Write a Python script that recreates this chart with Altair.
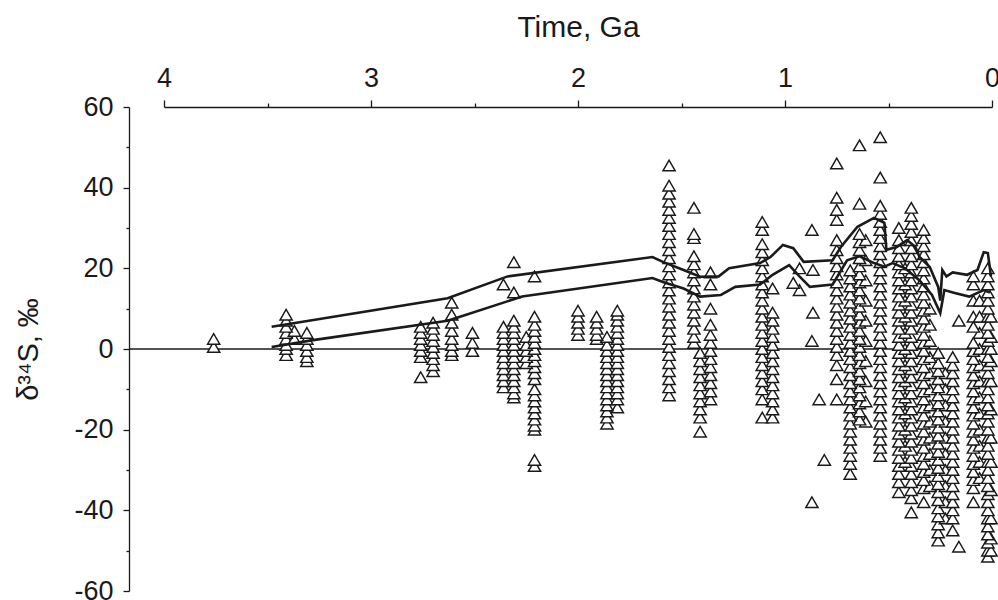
import altair as alt
import pandas as pd

# ---- sample columns (age in Ga, d34S in permil) ----
col_age = [3.76, 3.41, 3.37, 3.31, 2.76, 2.70, 2.61, 2.51, 2.36, 2.31, 2.25, 2.21,
           2.00, 1.91, 1.86, 1.81, 1.56, 1.44, 1.41, 1.36, 1.11, 1.06,
           0.75, 0.685, 0.64, 0.61, 0.54, 0.45, 0.42, 0.39, 0.33, 0.30,
           0.26, 0.225, 0.19, 0.09, 0.06, 0.02, 0.005]
col_d34s = [
    [2.5, 0.5],
    [8.5, 7, 5.5, 4, 2.5, 1, 0, -1.5],
    [4.5, 2.5],
    [4, 2.5, 1, -0.5, -2, -3],
    [5.5, 4, 2.5, 1, -0.5, -2, -7],
    [6.5, 5, 3.5, 2, 0.5, -1, -2.5, -4, -5.5],
    [11.5, 8.5, 6.5, 4.5, 2.5, 1, -0.5, -1.5],
    [4, 1.5, -0.5],
    [16, 5.5, 4, 2.5, 1, -0.5, -2, -3.5, -5, -6.5, -8, -9.5],
    [21.5, 14, 7, 5.5, 4, 2.5, 1, -0.5, -2, -3.5, -5, -6.5, -8, -9.5, -11, -12],
    [3, 1, -0.5, -2, -3.5],
    [18, 8, 6, 4.5, 3, 1.5, 0, -1.5, -3, -4.5, -6, -7.5, -10, -11.5, -13, -14.5,
     -16, -17.5, -19, -20, -27.5, -29],
    [9.5, 8, 6.5, 5, 3.5],
    [8, 6.5, 5, 3.5, 2.5],
    [3, 1, -0.5, -2, -3.5, -5, -6.5, -8, -9.5, -11, -12.5, -14, -15.5, -17, -18.5],
    [9.5, 8.5, 7, 5.5, 4, 2.5, 1, -0.5, -2, -3.5, -5, -6.5, -8, -9.5, -11, -12.5, -14.5],
    [45.5, 40.5, 38.5, 36.5, 34.5, 32.5, 30.5, 28.5, 26.5, 24.5, 22.5, 20.5, 18.5,
     16.5, 14.5, 12.5, 10.5, 8.5, 6.5, 4.5, 2.5, 0.5, -1.5, -3.5, -5.5, -7.5, -9.5, -11.5],
    [35, 28.5, 27.5, 23, 21, 19, 17, 15, 13, 11, 9, 7, 5, 3, 1.5],
    [-1, -3, -5, -7, -9, -11, -13, -15, -17, -20.5],
    [19, 16, 10, 6, 3.5, 1.5, -0.5, -2.5, -4.5, -6.5, -8.5, -10.5, -12.5],
    [31.5, 29.5, 26, 24, 22, 20, 18, 16, 14, 12, 10, 8, 6, 4, 2, 0, -2, -4, -6, -8,
     -10, -12.5, -17],
    [15, 9, 7, 5, 3, 1, -1, -3, -5, -7, -9, -11, -13, -15, -17],
    [46, 37.5, 34.5, 32, 27, 24.5, 22.5, 20.5, 18.5, 16.5, 14.5, 12.5, 10.5, 8.5,
     6.5, 4.5, 2.5, 0.5, -1.5, -4, -7.5, -12.5],
    [19.5, 17.5, 15.5, 13.5, 11.5, 9.5, 7.5, 5.5, 3.5, 1.5, -0.5, -2.5, -4.5, -6.5,
     -8.5, -10.5, -12.5, -14.5, -16.5, -18.5, -20.5, -22.5, -24.5, -26.5, -28.5, -31],
    [50.5, 36, 28.5, 26.5, 24.5, 22.5, 20.5, 18.5, 16.5, 14.5, 12.5, 10.5, 8.5, 6.5,
     4.5, 2.5, 0.5, -1.5, -3.5, -5.5, -7.5, -9.5, -11.5, -13.5, -15.5, -17.5],
    [27, 22, 17, 12, 7, 2, -3, -8, -13, -18],
    [52.5, 42.5, 35.5, 33.5, 31.5, 29.5, 27.5, 25.5, 23.5, 21.5, 19.5, 17.5, 15.5,
     13.5, 11.5, 9.5, 7.5, 5.5, 3.5, 1.5, -0.5, -2.5, -4.5, -6.5, -8.5, -10.5, -12.5,
     -14.5, -16.5, -18.5, -20.5, -22.5, -24.5, -26.5],
    [30, 27, 25, 23, 21, 19, 17, 15, 13, 11, 9, 7, 5, 3, 1, -1, -3, -5, -7, -9, -11,
     -13, -15, -17, -19, -21, -23, -25, -27, -29, -31, -33, -35.5],
    [20, 16, 12, 8, 4, 0, -4, -8, -12, -16, -20, -24, -28],
    [35, 33, 31, 29, 27, 25, 23, 21, 19, 17, 15, 13, 11, 9, 7, 5, 3, 1, -1, -3, -5,
     -7, -9, -11, -13, -15, -17, -19, -21, -23, -25, -27, -29, -31, -33, -35, -37, -40.5],
    [29.5, 27.5, 25.5, 23.5, 21.5, 19.5, 17.5, 15.5, 13.5, 11.5, 9.5, 7.5, 5.5, 3.5,
     1.5, -0.5, -2.5, -4.5, -6.5, -8.5, -10.5, -12.5, -14.5, -16.5, -18.5, -20.5,
     -22.5, -24.5, -26.5, -28.5, -30.5, -32.5, -34.5, -38],
    [10, 6, 2, -2, -6, -10, -14, -18, -22, -26, -30, -34],
    [-1, -3.5, -5.5, -7.5, -9.5, -11.5, -13.5, -15.5, -17.5, -19.5, -21.5, -23.5,
     -25.5, -27.5, -29.5, -31.5, -33.5, -35.5, -37.5, -39.5, -41.5, -43.5, -45.5, -47.5],
    [-6, -10, -14, -18, -22, -26, -30, -34, -38, -42],
    [-2, -4, -6, -8, -10, -12, -14, -16, -18, -20, -22, -24, -26, -28, -30, -32, -34,
     -36, -38, -40, -42, -45],
    [18, 16, 12, 8, 5.5, 1.5, -0.5, -2.5, -4.5, -6.5, -8.5, -10.5, -12.5, -14.5,
     -16.5, -18.5, -20.5, -22.5, -24.5, -26.5, -28.5, -30.5, -32.5, -34.5, -38],
    [12, 8, 4, 0, -4, -8, -12, -16, -20, -24, -28, -32],
    [20, 18, 16, 14, 12, 10, 8, 6, 4, 2, 0, -2, -4, -6, -8, -10, -12, -14, -16, -18,
     -20, -22, -24, -26, -28, -30, -32, -34, -36, -38, -40, -42, -44, -46, -48, -50, -51.5],
    [8, 3, 0, -3, -8, -15, -22, -28, -35, -42, -47, -50],
]

# ---- isolated samples ----
extra_age = [0.96, 0.93, 0.93, 0.87, 0.865, 0.865, 0.87, 0.835, 0.81, 0.87, 0.16, 0.16]
extra_d34s = [16.4, 20, 14.6, 29.5, 19.6, 9, 2, -12.5, -27.5, -38, 7, -49]

# ---- seawater sulfate envelope ----
upper_age = [3.48, 3.36, 2.63, 2.34, 1.64, 1.59, 1.49, 1.41, 1.32, 1.27, 1.12, 1.07,
             1.01, 0.96, 0.91, 0.77, 0.73, 0.65, 0.57, 0.52, 0.51, 0.46, 0.41, 0.37,
             0.35, 0.30, 0.26, 0.25, 0.24, 0.22, 0.19, 0.12, 0.07, 0.04, 0.02, 0.005]
upper_d34s = [5.5, 6.5, 12.6, 18, 22.8, 21.6, 19.6, 17.9, 18, 20, 21.3, 22.8,
              25.8, 25, 21.6, 22, 25.3, 30.3, 32.5, 31.3, 24.6, 25.3, 27, 25.3,
              22.8, 20.3, 15.4, 12, 19.6, 18, 19, 18.4, 19.6, 24, 23.8, 18]
lower_age = [3.48, 3.28, 2.63, 2.57, 2.27, 1.64, 1.59, 1.49, 1.41, 1.31, 1.24, 1.12,
             1.06, 0.98, 0.93, 0.88, 0.77, 0.70, 0.64, 0.57, 0.52, 0.48, 0.42, 0.35,
             0.29, 0.25, 0.23, 0.18, 0.11, 0.04, 0.01]
lower_d34s = [0.5, 2.2, 7, 8, 13, 17.6, 16.6, 15, 13, 13.4, 15.4, 16,
              18.4, 20.8, 18, 15.4, 16, 22, 23, 21.3, 20.4, 21.3, 20, 17,
              13.4, 8.9, 14.6, 13.9, 13, 14.6, 14]

x_ticks = [4, 3.5, 3, 2.5, 2, 1.5, 1, 0.5, 0]
y_ticks = [-60, -50, -40, -30, -20, -10, 0, 10, 20, 30, 40, 50, 60]

rows = []
for a, vals in zip(col_age, col_d34s):
    for v in vals:
        rows.append({"age": a, "d34s": v})
for a, v in zip(extra_age, extra_d34s):
    rows.append({"age": a, "d34s": v})
pts = pd.DataFrame(rows).sort_values("d34s", kind="stable").reset_index(drop=True)

curves = pd.concat([
    pd.DataFrame({"age": upper_age, "d34s": upper_d34s, "curve": "upper",
                  "i": range(len(upper_age))}),
    pd.DataFrame({"age": lower_age, "d34s": lower_d34s, "curve": "lower",
                  "i": range(len(lower_age))}),
])

FONT = "Liberation Sans"
INK = "#1a1a1a"
W, H = 828, 484

xscale = alt.Scale(domain=[4, 0], nice=False, zero=False)
yscale = alt.Scale(domain=[-60, 60], nice=False, zero=False)

xaxis = alt.Axis(
    orient="top", values=x_ticks, title="Time, Ga", grid=False,
    labelExpr="datum.value % 1 === 0 ? '' + datum.value : ''",
    tickSize={"condition": {"test": "datum.value % 1 !== 0", "value": 4}, "value": 7},
    labelFlush=False, labelOverlap=False, labelFont=FONT, labelFontSize=27,
    labelColor=INK, labelPadding=8, titleFont=FONT, titleFontSize=30,
    titleFontWeight="normal", titleColor=INK, titlePadding=22,
    domainColor=INK, tickColor=INK, domainWidth=1.3, tickWidth=1.3,
)
yaxis = alt.Axis(
    values=y_ticks, title="δ³⁴S, ‰", grid=False, offset=35,
    labelExpr="datum.value % 20 === 0 ? '' + datum.value : ''",
    tickSize={"condition": {"test": "datum.value % 20 !== 0", "value": 3}, "value": 6},
    labelFlush=False, labelOverlap=False, labelFont=FONT, labelFontSize=27,
    labelColor=INK, labelPadding=10, titleFont=FONT, titleFontSize=29,
    titleFontWeight="normal", titleColor=INK, titlePadding=30,
    domainColor=INK, tickColor=INK, domainWidth=1.3, tickWidth=1.3,
)

zero = alt.Chart(pd.DataFrame({"d34s": [0]})).mark_rule(color=INK, strokeWidth=1.3).encode(
    y=alt.Y("d34s:Q", scale=yscale, axis=yaxis),
    x=alt.value(-35), x2=alt.value(W),
)

points = alt.Chart(pts).mark_point(
    shape="triangle-up", size=150, filled=True, fill="white", stroke=INK,
    strokeWidth=1.45, opacity=1,
).encode(
    x=alt.X("age:Q", scale=xscale, axis=xaxis),
    y=alt.Y("d34s:Q", scale=yscale, axis=yaxis),
)

lines = alt.Chart(curves).mark_line(color=INK, strokeWidth=2.6).encode(
    x=alt.X("age:Q", scale=xscale, axis=xaxis),
    y=alt.Y("d34s:Q", scale=yscale, axis=yaxis),
    detail="curve:N",
    order="i:Q",
)

chart = alt.layer(zero, points, lines).properties(
    width=W, height=H,
    autosize=alt.AutoSizeParams(type="none"),
    padding={"left": 164, "top": 107, "right": 6, "bottom": 9},
    background="white",
).configure_view(stroke=None)

chart.save("out.html", embed_options={"renderer": "svg", "actions": False})
